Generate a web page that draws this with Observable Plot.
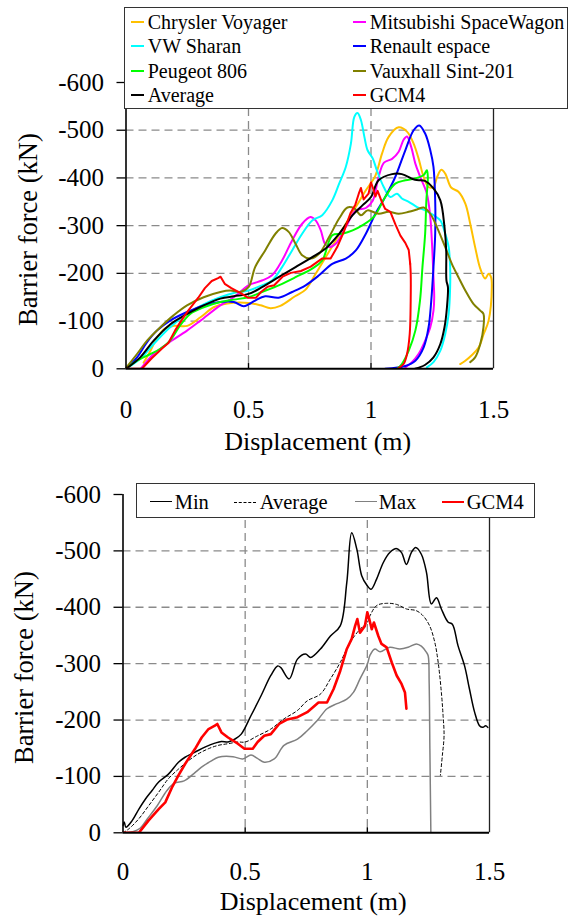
<!DOCTYPE html>
<html><head><meta charset="utf-8">
<script src="https://cdn.jsdelivr.net/npm/d3@7"></script>
<script src="https://cdn.jsdelivr.net/npm/@observablehq/plot@0.6"></script>
<style>
body{margin:0;background:#fff;}
#wrap{position:relative;width:572px;height:917px;overflow:hidden;font-family:"Liberation Serif","Times New Roman",serif;color:#000;}
.panel{position:absolute;left:0;}
.legend{position:absolute;background:#fff;border:1.3px solid #333;box-sizing:border-box;}
.txt{position:absolute;white-space:nowrap;line-height:20px;}
.sw{position:absolute;height:0;}
</style></head><body><div id="wrap"></div>
<script>
// ---------- axes ----------
const xTicks = [0, 0.5, 1, 1.5];
const yTicks = [0, -100, -200, -300, -400, -500, -600];
const gridYVals = [-100, -200, -300, -400, -500];
const gridXVals = [0.5, 1];

// ---------- top panel series: [displacement m, barrier force kN] ----------
const chrysler = [[0.072,-13],[0.10,-38],[0.128,-66],[0.16,-85],[0.195,-90],[0.25,-90],[0.304,-108],[0.358,-129],[0.414,-137],[0.5,-138],[0.55,-133],[0.59,-127],[0.63,-132],[0.69,-152],[0.733,-166],[0.774,-199],[0.815,-234],[0.856,-269],[0.897,-304],[0.938,-339],[0.979,-374],[1.018,-405],[1.045,-451],[1.072,-486],[1.113,-506],[1.147,-497],[1.174,-472],[1.194,-441],[1.215,-402],[1.235,-381],[1.255,-381],[1.27,-402],[1.287,-417],[1.303,-409],[1.327,-380],[1.357,-371],[1.385,-346],[1.405,-304],[1.425,-255],[1.446,-210],[1.466,-189],[1.48,-199],[1.49,-192],[1.493,-171],[1.48,-101],[1.46,-73],[1.44,-45],[1.41,-28],[1.385,-17],[1.364,-10]];
const mitsubishi = [[0.06,0],[0.113,-31],[0.17,-53],[0.249,-80],[0.304,-101],[0.385,-133],[0.44,-150],[0.5,-175],[0.555,-185],[0.596,-196],[0.637,-227],[0.678,-269],[0.719,-304],[0.753,-318],[0.774,-311],[0.795,-290],[0.812,-262],[0.829,-255],[0.856,-262],[0.897,-297],[0.938,-332],[0.979,-337],[1.007,-352],[1.03,-400],[1.053,-432],[1.086,-440],[1.113,-455],[1.133,-480],[1.147,-487],[1.164,-465],[1.181,-430],[1.201,-402],[1.228,-367],[1.242,-318],[1.249,-262],[1.255,-192],[1.258,-150],[1.255,-122],[1.242,-87],[1.221,-59],[1.194,-31],[1.167,-14],[1.14,-3]];
const vwSharan = [[0,0],[0.058,-21],[0.113,-52],[0.18,-87],[0.249,-115],[0.317,-135],[0.385,-150],[0.44,-159],[0.5,-164],[0.555,-175],[0.596,-185],[0.637,-213],[0.678,-248],[0.719,-283],[0.76,-311],[0.801,-322],[0.842,-353],[0.87,-388],[0.897,-423],[0.918,-472],[0.932,-528],[0.945,-536],[0.959,-521],[0.973,-486],[0.986,-458],[1.007,-441],[1.024,-416],[1.052,-381],[1.079,-360],[1.106,-367],[1.126,-357],[1.154,-350],[1.188,-339],[1.221,-332],[1.255,-322],[1.283,-311],[1.303,-283],[1.317,-255],[1.323,-213],[1.323,-171],[1.317,-115],[1.303,-73],[1.283,-38],[1.255,-14],[1.228,-3]];
const renault = [[0,0],[0.045,-24],[0.086,-56],[0.126,-80],[0.18,-101],[0.249,-119],[0.317,-133],[0.385,-140],[0.44,-140],[0.48,-131],[0.5,-135],[0.527,-143],[0.568,-152],[0.623,-149],[0.678,-161],[0.733,-175],[0.788,-196],[0.842,-220],[0.897,-231],[0.938,-248],[0.979,-283],[1.018,-325],[1.058,-360],[1.099,-402],[1.14,-458],[1.174,-500],[1.197,-510],[1.221,-493],[1.242,-458],[1.255,-423],[1.262,-353],[1.262,-283],[1.255,-213],[1.246,-143],[1.235,-87],[1.215,-45],[1.181,-17],[1.14,-6],[1.058,0]];
const peugeot = [[0,0],[0.045,-17],[0.1,-31],[0.14,-42],[0.18,-59],[0.221,-91],[0.262,-115],[0.317,-129],[0.385,-140],[0.44,-145],[0.5,-150],[0.555,-161],[0.623,-175],[0.692,-192],[0.76,-210],[0.801,-227],[0.842,-280],[0.883,-283],[0.925,-290],[0.966,-301],[1.014,-320],[1.058,-360],[1.099,-388],[1.14,-395],[1.181,-399],[1.215,-406],[1.228,-416],[1.232,-402],[1.226,-353],[1.221,-283],[1.21,-213],[1.2,-143],[1.181,-80],[1.154,-38],[1.126,-10],[1.106,0]];
const vauxhall = [[0,-2],[0.045,-31],[0.086,-59],[0.14,-87],[0.194,-112],[0.249,-133],[0.317,-150],[0.385,-161],[0.425,-164],[0.466,-161],[0.5,-171],[0.527,-213],[0.568,-248],[0.61,-283],[0.637,-295],[0.664,-287],[0.692,-262],[0.719,-238],[0.753,-231],[0.788,-241],[0.829,-276],[0.87,-315],[0.904,-338],[0.932,-336],[0.959,-322],[0.986,-332],[1.031,-325],[1.072,-329],[1.113,-325],[1.154,-329],[1.188,-334],[1.215,-338],[1.242,-325],[1.269,-297],[1.303,-255],[1.33,-220],[1.357,-192],[1.385,-164],[1.418,-136],[1.446,-122],[1.459,-115],[1.459,-87],[1.446,-52],[1.425,-24],[1.405,-14]];
const averageTop = [[0,0],[0.058,-24],[0.113,-59],[0.18,-93],[0.25,-115],[0.317,-133],[0.385,-147],[0.44,-152],[0.5,-157],[0.555,-171],[0.623,-192],[0.692,-213],[0.76,-234],[0.815,-252],[0.87,-283],[0.925,-322],[0.966,-343],[1.0,-360],[1.031,-395],[1.086,-408],[1.126,-408],[1.18,-396],[1.22,-394],[1.255,-378],[1.283,-353],[1.30,-297],[1.307,-248],[1.308,-185],[1.314,-171],[1.31,-129],[1.30,-87],[1.283,-52],[1.255,-24],[1.22,-8],[1.18,0]];
const gcm4 = [[0,0],[0.065,0],[0.105,-22],[0.146,-42],[0.173,-54],[0.2,-80],[0.227,-102],[0.254,-122],[0.295,-149],[0.322,-169],[0.35,-184],[0.376,-190],[0.386,-193],[0.403,-178],[0.43,-169],[0.47,-158],[0.497,-149],[0.531,-149],[0.551,-161],[0.578,-172],[0.605,-175],[0.639,-193],[0.673,-201],[0.714,-205],[0.754,-214],[0.80,-231],[0.835,-231],[0.862,-255],[0.889,-287],[0.916,-326],[0.936,-344],[0.95,-367],[0.959,-379],[0.97,-355],[0.99,-367],[1.0,-391],[1.008,-379],[1.018,-361],[1.027,-373],[1.045,-349],[1.058,-335],[1.079,-329],[1.1,-302],[1.12,-279],[1.14,-264],[1.154,-249],[1.16,-220]];
const gcm4Unload = [[1.16,-220],[1.162,-200],[1.162,-143],[1.158,-73],[1.147,-31],[1.133,-10],[1.113,-2]];

// ---------- bottom panel series ----------
const minEnv = [[0,-13],[0.005,-19],[0.012,-10],[0.038,-22],[0.065,-42],[0.092,-60],[0.119,-75],[0.146,-90],[0.186,-104],[0.227,-125],[0.254,-134],[0.295,-143],[0.335,-152],[0.376,-159],[0.403,-162],[0.43,-161],[0.457,-166],[0.484,-175],[0.524,-208],[0.565,-243],[0.605,-279],[0.633,-296],[0.646,-293],[0.68,-273],[0.714,-308],[0.747,-317],[0.768,-311],[0.808,-326],[0.849,-349],[0.889,-367],[0.916,-444],[0.936,-532],[0.957,-503],[0.977,-456],[0.997,-440],[1.015,-432],[1.038,-450],[1.065,-479],[1.092,-497],[1.12,-504],[1.14,-497],[1.16,-476],[1.18,-497],[1.198,-506],[1.221,-494],[1.242,-462],[1.262,-406],[1.283,-417],[1.303,-397],[1.33,-374],[1.348,-370],[1.371,-332],[1.398,-296],[1.418,-255],[1.439,-214],[1.459,-190],[1.473,-187],[1.484,-190],[1.493,-187]];
const averageBottom = [[0,0],[0.024,-7],[0.065,-25],[0.105,-48],[0.146,-72],[0.186,-96],[0.227,-113],[0.268,-128],[0.308,-140],[0.349,-149],[0.389,-155],[0.43,-158],[0.47,-161],[0.5,-161],[0.551,-172],[0.605,-184],[0.659,-202],[0.714,-217],[0.754,-234],[0.808,-246],[0.849,-273],[0.889,-302],[0.93,-338],[0.97,-361],[1.0,-373],[1.011,-385],[1.038,-403],[1.079,-407],[1.12,-405],[1.16,-397],[1.2,-394],[1.228,-385],[1.255,-367],[1.276,-338],[1.29,-302],[1.303,-249],[1.31,-208],[1.314,-172],[1.307,-137],[1.299,-102]];
const maxEnv = [[0,0],[0.04,-2],[0.07,-8],[0.1,-25],[0.14,-48],[0.18,-75],[0.21,-88],[0.25,-92],[0.29,-105],[0.32,-116],[0.36,-127],[0.39,-134],[0.45,-135],[0.49,-131],[0.524,-138],[0.55,-132],[0.578,-125],[0.619,-131],[0.659,-155],[0.714,-166],[0.754,-181],[0.795,-199],[0.835,-220],[0.876,-229],[0.916,-237],[0.943,-249],[0.97,-273],[1.0,-299],[1.011,-315],[1.031,-326],[1.052,-321],[1.092,-329],[1.133,-326],[1.167,-329],[1.201,-335],[1.221,-331],[1.242,-320],[1.249,-314],[1.253,-267],[1.256,-149],[1.26,0]];

// ---------- legends ----------
const topNames = ["Chrysler Voyager","Mitsubishi SpaceWagon","VW Sharan","Renault espace","Peugeot 806","Vauxhall Sint-201","Average","GCM4"];
const topColors = ["#FFC000","#FF00FF","#00FFFF","#0000FF","#00FF00","#808000","#000000","#FF0000"];
const bottomNames = ["Min","Average","Max","GCM4"];
const bottomColors = ["#000000","#000000","#808080","#FF0000"];

const topSeries = [
  {data: chrysler, color: topColors[0], w: 2},
  {data: mitsubishi, color: topColors[1], w: 2},
  {data: vwSharan, color: topColors[2], w: 2},
  {data: renault, color: topColors[3], w: 2},
  {data: peugeot, color: topColors[4], w: 2},
  {data: vauxhall, color: topColors[5], w: 2},
  {data: averageTop, color: topColors[6], w: 2},
  {data: gcm4, color: topColors[7], w: 2, curve: "linear"},
  {data: gcm4Unload, color: topColors[7], w: 2}
];
const bottomSeries = [
  {data: maxEnv, color: bottomColors[2], w: 1.5},
  {data: averageBottom, color: bottomColors[1], w: 1, dash: "3,2.5"},
  {data: minEnv, color: bottomColors[0], w: 1.5},
  {data: gcm4, color: bottomColors[3], w: 2.6, curve: "linear"}
];

const FONT = "'Liberation Serif','Times New Roman',serif";

function panel(series, c) {
  const grid = {stroke: "#8a8a8a", strokeOpacity: 1, strokeWidth: 1.3, strokeDasharray: "8,5"};
  return Plot.plot({
    width: 572, height: c.height,
    marginLeft: c.ml, marginRight: c.mr, marginTop: c.mt, marginBottom: c.mb,
    x: {domain: [0, 1.5]},
    y: {domain: [0, -600]},
    style: {background: "none", fontFamily: FONT, fontSize: "25px", color: "#000", overflow: "visible"},
    marks: [
      Plot.gridY(gridYVals, grid),
      Plot.gridX(gridXVals, grid),
      ...series.map(s => Plot.line(s.data, {x: d => d[0], y: d => d[1], stroke: s.color, strokeWidth: s.w,
        strokeDasharray: s.dash, curve: s.curve || "catmull-rom", clip: true})),
      Plot.ruleX([0], {stroke: "#000", strokeWidth: 1.6}),
      Plot.ruleX([1.5], {stroke: "#222", strokeWidth: 1.3}),
      Plot.ruleY([0], {stroke: "#000", strokeWidth: 2}),
      Plot.ruleX(gridXVals, {y1: 0, y2: c.innerTick, stroke: "#000", strokeWidth: 1.4}),
      Plot.axisY(yTicks, {tickSize: 9, tickPadding: 13, tickFormat: d => String(d), label: null, fontSize: 25, strokeWidth: 1.3}),
      Plot.axisX(xTicks, {tickSize: 0, tickPadding: c.xPad, tickFormat: d => String(d), label: null, fontSize: 25}),
      Plot.text(["Barrier force (kN)"], {text: d => d, frameAnchor: "left", textAnchor: "middle", lineAnchor: "middle",
        rotate: -90, dx: c.ytDx, dy: c.ytDy, fontSize: 26.5}),
      Plot.text(["Displacement (m)"], {text: d => d, frameAnchor: "bottom", textAnchor: "middle", lineAnchor: "middle",
        dx: c.xtDx, dy: c.xtDy, fontSize: 26})
    ]
  });
}

const wrap = document.getElementById("wrap");
function place(el, top) {
  const d = document.createElement("div");
  d.className = "panel"; d.style.top = top + "px";
  d.appendChild(el); wrap.appendChild(d);
}
place(panel(topSeries, {height: 460, ml: 125.5, mr: 79, mt: 82, mb: 91.7, innerTick: -11, xPad: 31, ytDx: -97.5, ytDy: 4, xtDx: 8, xtDy: 72.5}), 0);
place(panel(bottomSeries, {height: 457, ml: 122.5, mr: 83, mt: 34, mb: 84.7, innerTick: -9, xPad: 29, ytDx: -98.5, ytDy: 4, xtDx: 7, xtDy: 68.5}), 460);

function legend(box, items, fontSize) {
  const L = document.createElement("div");
  L.className = "legend";
  Object.assign(L.style, {left: box.left + "px", top: box.top + "px", width: box.w + "px", height: box.h + "px"});
  wrap.appendChild(L);
  items.forEach(it => {
    const s = document.createElement("div");
    s.className = "sw";
    Object.assign(s.style, {left: (it.sx - box.left) + "px", width: it.sw + "px",
      top: (it.base - 7 - it.lw / 2 - box.top - 1.3) + "px",
      borderTop: it.lw + "px " + (it.dash ? "dashed " : "solid ") + it.color});
    L.appendChild(s);
    const t = document.createElement("div");
    t.className = "txt";
    t.textContent = it.name;
    Object.assign(t.style, {left: (it.tx - box.left - 1.3) + "px", top: (it.base - 16.75 - box.top - 1.3) + "px", fontSize: fontSize + "px"});
    L.appendChild(t);
  });
}
const topBase = [29, 53.5, 78, 102];
legend({left: 124, top: 7, w: 444, h: 102},
  topNames.map((n, i) => ({name: n, color: topColors[i], lw: 2,
    sx: i % 2 ? 352 : 130, sw: 13, tx: i % 2 ? 370 : 148, base: topBase[Math.floor(i / 2)]})), 20);
const bx = [[149, 175], [233, 260], [354, 379], [441, 467]];
legend({left: 136, top: 483, w: 399, h: 35},
  bottomNames.map((n, i) => ({name: n, color: bottomColors[i], lw: [1.5, 1, 1.5, 2.6][i], dash: i === 1,
    sx: bx[i][0], sw: 22, tx: bx[i][1], base: 509.5})), 20.5);
</script></body></html>
